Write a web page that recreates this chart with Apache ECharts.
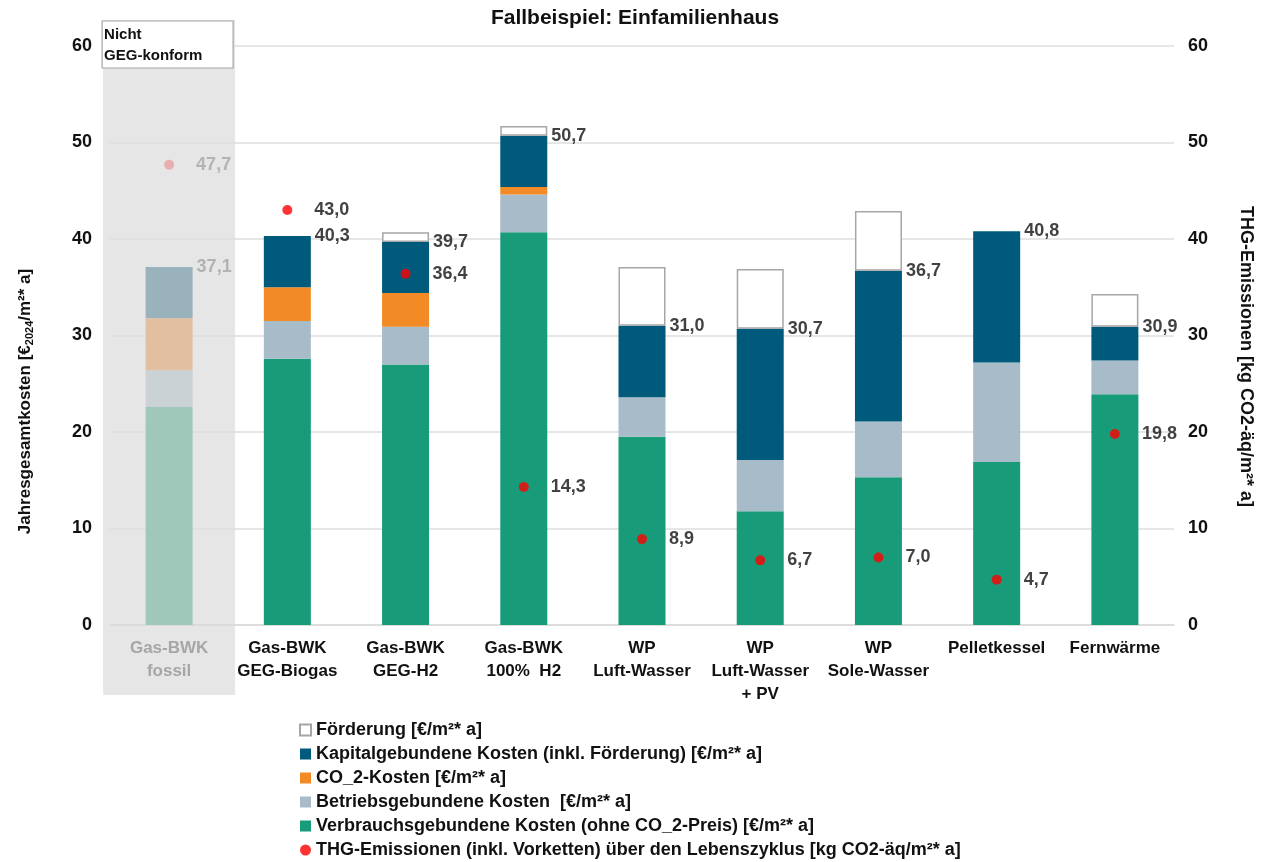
<!DOCTYPE html>
<html>
<head>
<meta charset="utf-8">
<script src="https://cdn.jsdelivr.net/npm/echarts@6/dist/echarts.min.js"></script>
<style>
html,body{margin:0;padding:0;background:#fff;}
#chart{width:1270px;height:862px;}
</style>
</head>
<body>
<div id="chart"></div>
<script>
const categories = ['Gas-BWK\nfossil', 'Gas-BWK\nGEG-Biogas', 'Gas-BWK\nGEG-H2', 'Gas-BWK\n100%  H2', 'WP\nLuft-Wasser', 'WP\nLuft-Wasser\n+ PV', 'WP\nSole-Wasser', 'Pelletkessel', 'Fernwärme'];
const verbrauch = [22.6, 27.6, 27.0, 40.7, 19.5, 11.8, 15.3, 16.9, 23.9];
const betrieb   = [3.8, 3.9, 3.9, 3.9, 4.1, 5.3, 5.8, 10.3, 3.5];
const co2       = [5.4, 3.5, 3.5, 0.8, 0, 0, 0, 0, 0];
const kapital   = [5.3, 5.3, 5.3, 5.3, 7.4, 13.6, 15.6, 13.6, 3.5];
const foerderung= [0, 0, 1.0, 1.0, 6.1, 6.2, 6.2, 0, 3.4];
const totals    = [37.1, 40.3, 39.7, 50.7, 31.0, 30.7, 36.7, 40.8, 30.9];
const emissionen= [47.7, 43.0, 36.4, 14.3, 8.9, 6.7, 7.0, 4.7, 19.8];
const yTicks    = [0, 10, 20, 30, 40, 50, 60];

const names = {
  foe: 'Förderung [€/m²* a]',
  kap: 'Kapitalgebundene Kosten (inkl. Förderung) [€/m²* a]',
  co2: 'CO_2-Kosten [€/m²* a]',
  bet: 'Betriebsgebundene Kosten  [€/m²* a]',
  ver: 'Verbrauchsgebundene Kosten (ohne CO_2-Preis) [€/m²* a]',
  thg: 'THG-Emissionen (inkl. Vorketten) über den Lebenszyklus [kg CO2-äq/m²* a]'
};
const colors = {ver:'#189b79', bet:'#a7bcc8', co2:'#f28a25', kap:'#005a7b', foe:'#ffffff', thg:'#ff0000'};
const faded  = {ver:'#9fc8bb', bet:'#cbd2d6', co2:'#e3bfa1', kap:'#9ab2bc', foe:'#ffffff', thg:'#eaa0a3'};
const FONT = 'Liberation Sans, Arial, sans-serif';
const TXT = '#111111';
const fmt = v => v.toFixed(1).replace('.', ',');

function barData(arr, key){
  return arr.map((v,i) => {
    if (v === 0) return '-';
    if (i === 0) return {value: v, itemStyle: {color: faded[key]}};
    return v;
  });
}
function barSeries(key, arr){
  const s = {
    name: names[key], type: 'bar', stack: 'k', barWidth: 47,
    itemStyle: {color: colors[key]},
    data: barData(arr, key), z: 3
  };
  if (key === 'foe') s.itemStyle = {color:'#ffffff', borderColor:'#a6a6a6', borderWidth:1.5};
  return s;
}

const chart = echarts.init(document.getElementById('chart'));
const option = {
  animation: false,
  textStyle: {fontFamily: FONT},
  title: {text: 'Fallbeispiel: Einfamilienhaus', left: 'center', top: 3,
    textStyle: {fontFamily: FONT, fontSize: 21, fontWeight: 'bold', color: TXT}},
  grid: {left: 110, right: 96, top: 46, bottom: 237},
  legend: {
    orient: 'vertical', left: 299, top: 721, height: 141, padding: 0, itemGap: 6, itemWidth: 11, itemHeight: 11,
    textStyle: {fontFamily: FONT, fontSize: 18, fontWeight: 'bold', color: TXT},
    data: [
      {name: names.foe, icon: 'rect'}, {name: names.kap, icon: 'rect'}, {name: names.co2, icon: 'rect'},
      {name: names.bet, icon: 'rect'}, {name: names.ver, icon: 'rect'}, {name: names.thg, icon: 'circle'}
    ]
  },
  xAxis: {
    type: 'category', data: categories,
    axisLine: {lineStyle: {color: '#d9d9d9', width: 1.5}},
    axisTick: {show: false},
    axisLabel: {interval: 0, margin: 12, fontFamily: FONT, fontSize: 17, fontWeight: 'bold', lineHeight: 23,
      color: (v, i) => i === 0 ? '#a6a6a6' : TXT}
  },
  yAxis: [
    {type: 'value', min: yTicks[0], max: yTicks[yTicks.length-1], interval: 10,
      name: '{a|Jahresgesamtkosten [€}{s|2024}{a|/m²* a]}', nameLocation: 'middle', nameGap: 75,
      nameTextStyle: {padding: [0, 132, 0, 0], rich: {a: {fontFamily: FONT, fontSize: 17, fontWeight: 'bold', color: TXT},
        s: {fontFamily: FONT, fontSize: 11, fontWeight: 'bold', color: TXT, verticalAlign: 'bottom', padding:[8,0,0,0]}}},
      axisLine: {show: false}, axisTick: {show: false},
      splitLine: {lineStyle: {color: '#dedede', width: 1.5}},
      axisLabel: {margin: 18, fontFamily: FONT, fontSize: 18, fontWeight: 'bold', color: TXT}},
    {type: 'value', min: yTicks[0], max: yTicks[yTicks.length-1], interval: 10, position: 'right',
      name: 'THG-Emissionen [kg CO2-äq/m²* a]', nameLocation: 'middle', nameGap: 63, nameRotate: -90,
      nameTextStyle: {padding: [0, 0, 0, 42], fontFamily: FONT, fontSize: 18, fontWeight: 'bold', color: TXT},
      axisLine: {show: false}, axisTick: {show: false}, splitLine: {show: false},
      axisLabel: {margin: 14, fontFamily: FONT, fontSize: 18, fontWeight: 'bold', color: TXT}}
  ],
  series: [
    barSeries('ver', verbrauch),
    barSeries('bet', betrieb),
    barSeries('co2', co2),
    barSeries('kap', kapital),
    barSeries('foe', foerderung),
    {
      name: 'totals', type: 'scatter', yAxisIndex: 0, symbolSize: 1, z: 5,
      itemStyle: {color: 'rgba(0,0,0,0)'}, silent: true,
      data: totals.map((v,i) => ({value: v, label: {color: i === 0 ? '#a6a6a6' : TXT}})),
      label: {show: true, position: 'right', distance: 27, formatter: p => fmt(totals[p.dataIndex]),
        fontFamily: FONT, fontSize: 18, fontWeight: 'bold'}
    },
    {
      name: names.thg, type: 'scatter', yAxisIndex: 1, symbolSize: 10, z: 6,
      itemStyle: {color: colors.thg},
      data: emissionen.map((v,i) => i === 0 ? {value: v, itemStyle: {color: faded.thg}, label: {color: '#a6a6a6'}} : {value: v}),
      label: {show: true, position: 'right', distance: 22, formatter: p => fmt(emissionen[p.dataIndex]),
        fontFamily: FONT, fontSize: 18, fontWeight: 'bold', color: TXT}
    }
  ]
};
chart.setOption(option);

const cx = chart.convertToPixel({xAxisIndex: 0}, categories[0]);
chart.setOption({
  graphic: [
    {type: 'rect', z: -10, silent: true, shape: {x: cx - 66, y: 20, width: 132, height: 675}, style: {fill: '#e6e6e6'}},
    {type: 'rect', z: 100, silent: true, shape: {x: cx - 67, y: 21, width: 131, height: 47},
      style: {fill: '#ffffff', stroke: '#a6a6a6', lineWidth: 1.2}},
    {type: 'text', z: 101, silent: true, x: cx - 65, y: 24,
      style: {text: 'Nicht\nGEG-konform', fill: TXT, font: 'bold 15px ' + FONT, lineHeight: 21}}
  ]
});
</script>
</body>
</html>
